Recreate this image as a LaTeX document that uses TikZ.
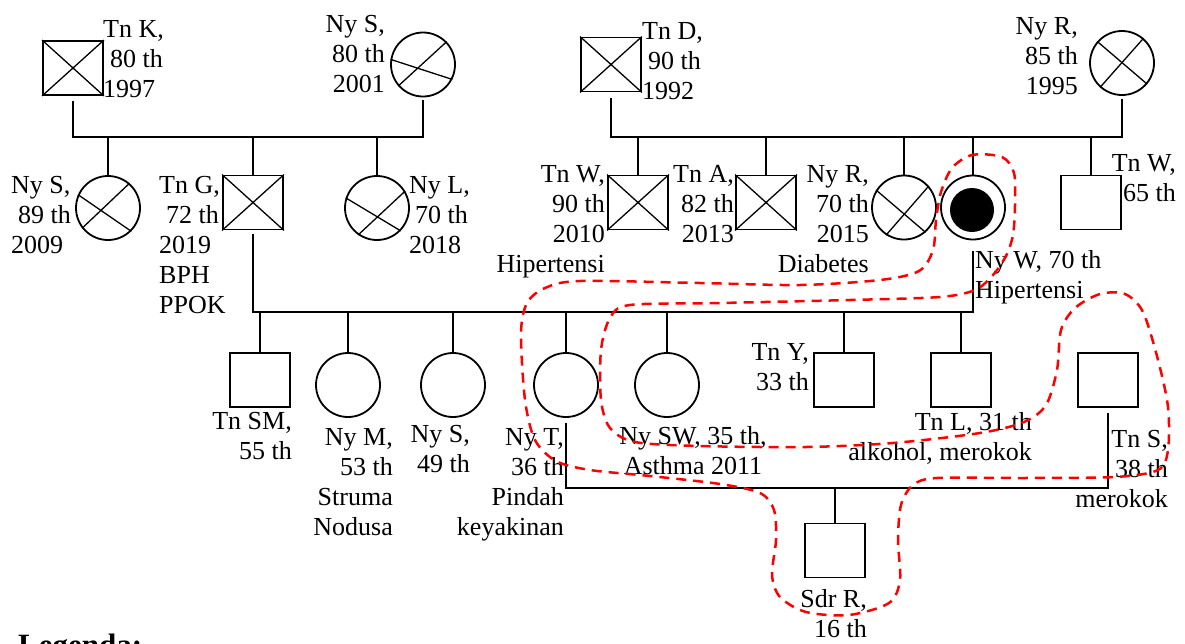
\documentclass[tikz,border=0pt]{standalone}
\usepackage{fontspec}
\setmainfont{Liberation Serif}
\usetikzlibrary{calc}
\newcommand\blk[2]{\begin{tabular}[t]{@{}#1@{}}#2\end{tabular}}
\begin{document}
\begin{tikzpicture}[x=1pt,y=-1pt,
  lbl/.style={inner sep=0pt, font=\fontsize{26}{30}\selectfont},
  male/.style={draw, line width=1.8pt, minimum width=60pt, minimum height=54pt, inner sep=0pt},
  female/.style={draw, circle, line width=1.8pt, minimum size=64pt, inner sep=0pt},
  rel/.style={line width=1.8pt},
  cross/.style={line width=1.3pt},
  bound/.style={red, line width=2.5pt, dash pattern=on 10pt off 7pt}]
\useasboundingbox (0,0) rectangle (1185,643);

% Generation I
\node[male] (tnk) at (73,68) {};
\draw[cross] (tnk.north west) -- (tnk.south east) (tnk.north east) -- (tnk.south west);
\node[female] (nys1) at (423,64.5) {};
\draw[cross] (nys1.44) -- (nys1.221) (nys1.171) -- (nys1.-27);
\node[male] (tnd) at (611,64.5) {};
\draw[cross] (tnd.north west) -- (tnd.south east) (tnd.north east) -- (tnd.south west);
\node[female] (nyr1) at (1122,63) {};
\draw[cross] (nyr1.139) -- (nyr1.-40) (nyr1.49) -- (nyr1.228);

% Generation II
\node[female] (nys2) at (108,208) {};
\draw[cross] (nys2.156) -- (nys2.-45) (nys2.49) -- (nys2.218);
\node[male] (tng) at (253,202.5) {};
\draw[cross] (tng.north west) -- (tng.south east) (tng.north east) -- (tng.south west);
\node[female] (nyl) at (377,208) {};
\draw[cross] (nyl.162) -- (nyl.-44) (nyl.31) -- (nyl.235);
\node[male] (tnw) at (638,202.5) {};
\draw[cross] (tnw.north west) -- (tnw.south east) (tnw.north east) -- (tnw.south west);
\node[male] (tna) at (766,202.5) {};
\draw[cross] (tna.north west) -- (tna.south east) (tna.north east) -- (tna.south west);
\node[female] (nyr2) at (904,207.5) {};
\draw[cross] (nyr2.148) -- (nyr2.-49) (nyr2.41) -- (nyr2.237);
\node[female] (nyw) at (973,207.5) {};
\node[circle, fill=black, minimum size=44pt, inner sep=0pt] (nywi) at (972,210) {};
\node[male] (tnw65) at (1091,202.5) {};

% Generation III
\node[male] (tnsm) at (260,380) {};
\node[female] (nym) at (348,385) {};
\node[female] (nys3) at (453,385) {};
\node[female] (nyt) at (566,385) {};
\node[female] (nysw) at (667,385) {};
\node[male] (tny) at (844,380) {};
\node[male] (tnl) at (961,380) {};
\node[male] (tns) at (1108,380) {};

% Generation IV
\node[male] (sdrr) at (835,550.5) {};

% Relationship lines
\coordinate (j1) at (249,137);
\draw[rel] ([yshift=-5pt]tnk.south) -- (tnk.south |- j1) -- (nys1.south |- j1) -- ([yshift=-3pt]nys1.south);
\foreach \c in {nys2,tng,nyl} \draw[rel] (\c.north) -- (\c.north |- j1);

\coordinate (j2) at (868,137);
\draw[rel] ([yshift=-6pt]tnd.south) -- (tnd.south |- j2) -- (nyr1.south |- j2) -- ([yshift=-3pt]nyr1.south);
\foreach \c in {tnw,tna,nyr2,nyw,tnw65} \draw[rel] (\c.north) -- (\c.north |- j2);

\coordinate (j3) at (613,312);
\draw[rel] ([yshift=-4pt]tng.south) -- (tng.south |- j3) -- (nyw.south |- j3) -- ([yshift=-11pt]nyw.south);
\foreach \c in {tnsm,nym,nys3,nyt,nysw,tny,tnl} \draw[rel] (\c.north) -- (\c.north |- j3);

\coordinate (j4) at (835,488);
\draw[rel] ([yshift=-5pt]nyt.south) -- (nyt.south |- j4) -- (tns.south |- j4) -- ([yshift=-5pt]tns.south);
\draw[rel] (sdrr.north) -- (sdrr.north |- j4);

% Labels
\node[lbl, anchor=base west] (tnkL) at (103,37) {\blk{l}{Tn K,\\\hspace*{7pt}80 th\\1997}};
\node[lbl, anchor=base east] (nys1L) at (385,32) {\blk{r}{Ny S,\\80 th\\2001}};
\node[lbl, anchor=base west] (tndL) at (642,39) {\blk{l}{Tn D,\\\hspace*{6pt}90 th\\1992}};
\node[lbl, anchor=base east] (nyr1L) at (1078,34) {\blk{r}{Ny R,\\85 th\\1995}};
\node[lbl, anchor=base west] (nys2L) at (11,193) {\blk{l}{Ny S,\\\hspace*{7pt}89 th\\2009}};
\node[lbl, anchor=base west] (tngL) at (159,193) {\blk{l}{Tn G,\\\hspace*{7pt}72 th\\2019\\BPH\\PPOK}};
\node[lbl, anchor=base west] (nylL) at (409,193) {\blk{l}{Ny L,\\\hspace*{6pt}70 th\\2018}};
\node[lbl, anchor=base east] (tnwL) at (605,182) {\blk{r}{Tn W,\\90 th\\2010\\Hipertensi}};
\node[lbl, anchor=base east] (tnaL) at (734,182) {\blk{r}{Tn A,\\82 th\\2013}};
\node[lbl, anchor=base east] (nyr2L) at (869,182) {\blk{r}{Ny R,\\70 th\\2015\\Diabetes}};
\node[lbl, anchor=base west] (nywL) at (975,268) {\blk{l}{Ny W, 70 th\\Hipertensi}};
\node[lbl, anchor=base east] (tnw65L) at (1176,171) {\blk{r}{Tn W,\\65 th}};
\node[lbl, anchor=base east] (tnsmL) at (292,429) {\blk{r}{Tn SM,\\55 th}};
\node[lbl, anchor=base east] (nymL) at (393,445) {\blk{r}{Ny M,\\53 th\\Struma\\Nodusa}};
\node[lbl, anchor=base east] (nys3L) at (470,442) {\blk{r}{Ny S,\\49 th}};
\node[lbl, anchor=base east] (nytL) at (564,445) {\blk{r}{Ny T,\\36 th\\Pindah\\keyakinan}};
\node[lbl, anchor=base] (nyswL) at (693,444) {\blk{c}{Ny SW, 35 th,\\Asthma 2011}};
\node[lbl, anchor=base east] (tnyL) at (809,360) {\blk{r}{Tn Y,\\33 th}};
\node[lbl, anchor=base east] (tnlL) at (1032,430) {\blk{r}{Tn L, 31 th\\alkohol, merokok}};
\node[lbl, anchor=base east] (tnsL) at (1168,447) {\blk{r}{Tn S,\\38 th\\merokok}};
\node[lbl, anchor=base east] (sdrrL) at (867,607) {\blk{r}{Sdr R,\\16 th}};
\node[lbl, font=\fontsize{31}{36}\selectfont\bfseries, anchor=base west] (leg) at (18,655) {Legenda:};

% Household boundary
\draw[bound] plot[smooth cycle, tension=0.5] coordinates {
 (972,155) (1002,157) (1014,173) (1015,205) (1013,235) (1006,256) (993,275) (975,290) (940,297)
 (850,300) (720,303) (630,305) (610,318) (601,350) (601,400) (610,428) (635,442) (700,446)
 (806,447) (893,443) (980,433) (1024,422) (1046,405) (1057,370) (1061,330) (1075,308)
 (1100,294) (1125,294) (1143,312) (1158,360) (1168,407) (1168,450) (1158,470) (1115,477)
 (1024,478) (937,478) (913,485) (901,505) (898,540) (900,580) (889,603) (849,615) (806,612)
 (780,597) (772,575) (776,540) (774,510) (760,493) (720,484) (650,476) (590,470) (556,461)
 (535,440) (525,400) (521,333) (527,303) (545,288) (580,281) (700,283) (800,285) (880,280)
 (919,271) (933,250) (936,220) (941,192) (952,168)};
\end{tikzpicture}
\end{document}
